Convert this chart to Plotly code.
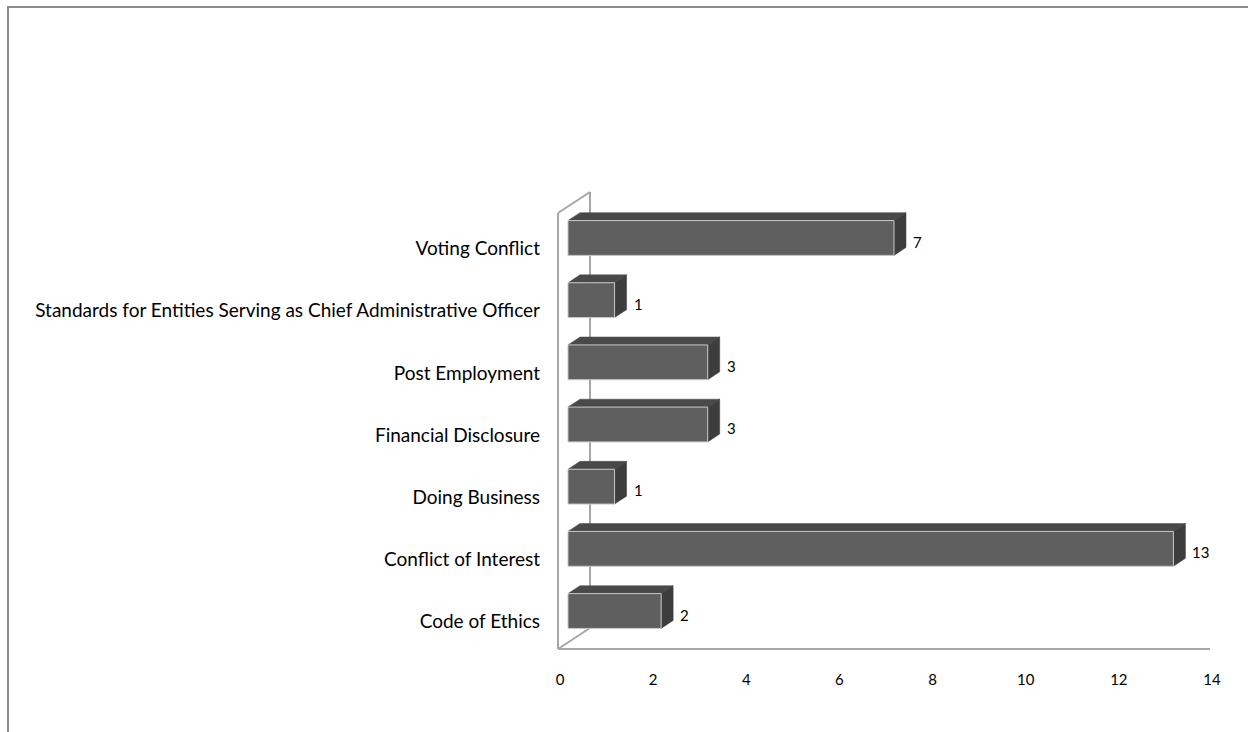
import plotly.graph_objects as go

categories = ["Code of Ethics", "Conflict of Interest", "Doing Business",
              "Financial Disclosure", "Post Employment",
              "Standards for Entities Serving as Chief Administrative Officer",
              "Voting Conflict"]
values = [2, 13, 1, 3, 3, 1, 7]
x_ticks = [0, 2, 4, 6, 8, 10, 12, 14]

W, H = 1248, 732
PX_X = 46.57          # px per x unit
X0_PX = 558           # px of x=0 (front floor)
PX_Y = 62.17          # px per category
Y0_PX = 617.6         # px of category 0 (front plane)

xr = [-0.3, 14.3]
yr = [-0.7, 7.0]
xd = [(X0_PX + PX_X * xr[0]) / W, (X0_PX + PX_X * xr[1]) / W]
yd = [(H - (Y0_PX - PX_Y * yr[0])) / H, (H - (Y0_PX - PX_Y * yr[1])) / H]

# depth projections (data units)
def dxu(px):
    return px / PX_X

def dyu(px):
    return px / PX_Y

fd_x, fd_y = dxu(10), dyu(6.6)     # bar front plane
bd_x, bd_y = dxu(22), dyu(14.5)    # bar back plane
hh = 0.28                           # half height of bar face

FRONT = "#5f5f5f"
TOP = "#494949"
SIDE = "#3d3d3d"
WALL = "#a6a6a6"

fig = go.Figure()

shapes = []
# walls / floor
wx, wy = dxu(32), dyu(21)
ybot, ytop = -0.505, 6.508
wall_lines = [
    (0, ybot, 0, ytop),
    (0, ytop, wx, ytop + wy),
    (wx, ytop + wy, wx, ybot + wy),
    (0, ybot, wx, ybot + wy),
    (0, ybot, 14, ybot),
]
for x0, y0, x1, y1 in wall_lines:
    shapes.append(dict(type="line", xref="x", yref="y", x0=x0, y0=y0, x1=x1, y1=y1,
                       line=dict(color=WALL, width=2), layer="below"))

for i, v in enumerate(values):
    c = i
    fx0, fx1 = fd_x, v + fd_x
    fy0, fy1 = c - hh + fd_y, c + hh + fd_y
    bx0, bx1 = bd_x, v + bd_x
    by0, by1 = c - hh + bd_y, c + hh + bd_y
    # top face
    fig.add_trace(go.Scatter(x=[fx0, fx1, bx1, bx0, fx0], y=[fy1, fy1, by1, by1, fy1],
                             fill="toself", fillcolor=TOP, mode="lines",
                             line=dict(color=TOP, width=0.5), hoverinfo="skip", showlegend=False))
    # side face
    fig.add_trace(go.Scatter(x=[fx1, bx1, bx1, fx1, fx1], y=[fy0, by0, by1, fy1, fy0],
                             fill="toself", fillcolor=SIDE, mode="lines",
                             line=dict(color=SIDE, width=0.5), hoverinfo="skip", showlegend=False))
    # front face
    fig.add_trace(go.Scatter(x=[fx0, fx1, fx1, fx0, fx0], y=[fy0, fy0, fy1, fy1, fy0],
                             fill="toself", fillcolor=FRONT, mode="lines",
                             line=dict(color="#c8c8c8", width=1), hoverinfo="skip", showlegend=False))

annotations = []
for i, v in enumerate(values):
    annotations.append(dict(x=v + bd_x, y=i, xref="x", yref="y", text=str(v),
                            showarrow=False, xanchor="left", yanchor="middle",
                            xshift=5, yshift=3,
                            font=dict(family="Lato, Open Sans, sans-serif", size=15, color="#000000")))

# outer border
shapes.append(dict(type="rect", xref="paper", yref="paper",
                   x0=8 / W, x1=1.02, y0=-0.02, y1=(H - 7) / H,
                   line=dict(color="#8c8c8c", width=2), fillcolor="rgba(0,0,0,0)"))

fig.update_layout(
    width=W, height=H,
    margin=dict(l=0, r=0, t=0, b=0),
    paper_bgcolor="white", plot_bgcolor="white",
    shapes=shapes, annotations=annotations,
    font=dict(family="Lato, Open Sans, sans-serif", color="#000000"),
    xaxis=dict(range=xr, domain=xd, tickvals=x_ticks, ticktext=[str(t) for t in x_ticks],
               showgrid=False, zeroline=False, showline=False, ticks="",
               ticklabelstandoff=8, ticklabelshift=2, tickfont=dict(size=15), fixedrange=True),
    yaxis=dict(range=yr, domain=yd, tickvals=list(range(len(categories))),
               ticktext=categories, showgrid=False, zeroline=False, showline=False,
               ticks="", ticklabelstandoff=3, ticklabelshift=4,
               tickfont=dict(size=19), fixedrange=True),
)

fig.write_html("out.html", config={"displayModeBar": False},
               post_script="document.body.style.margin='0';")
